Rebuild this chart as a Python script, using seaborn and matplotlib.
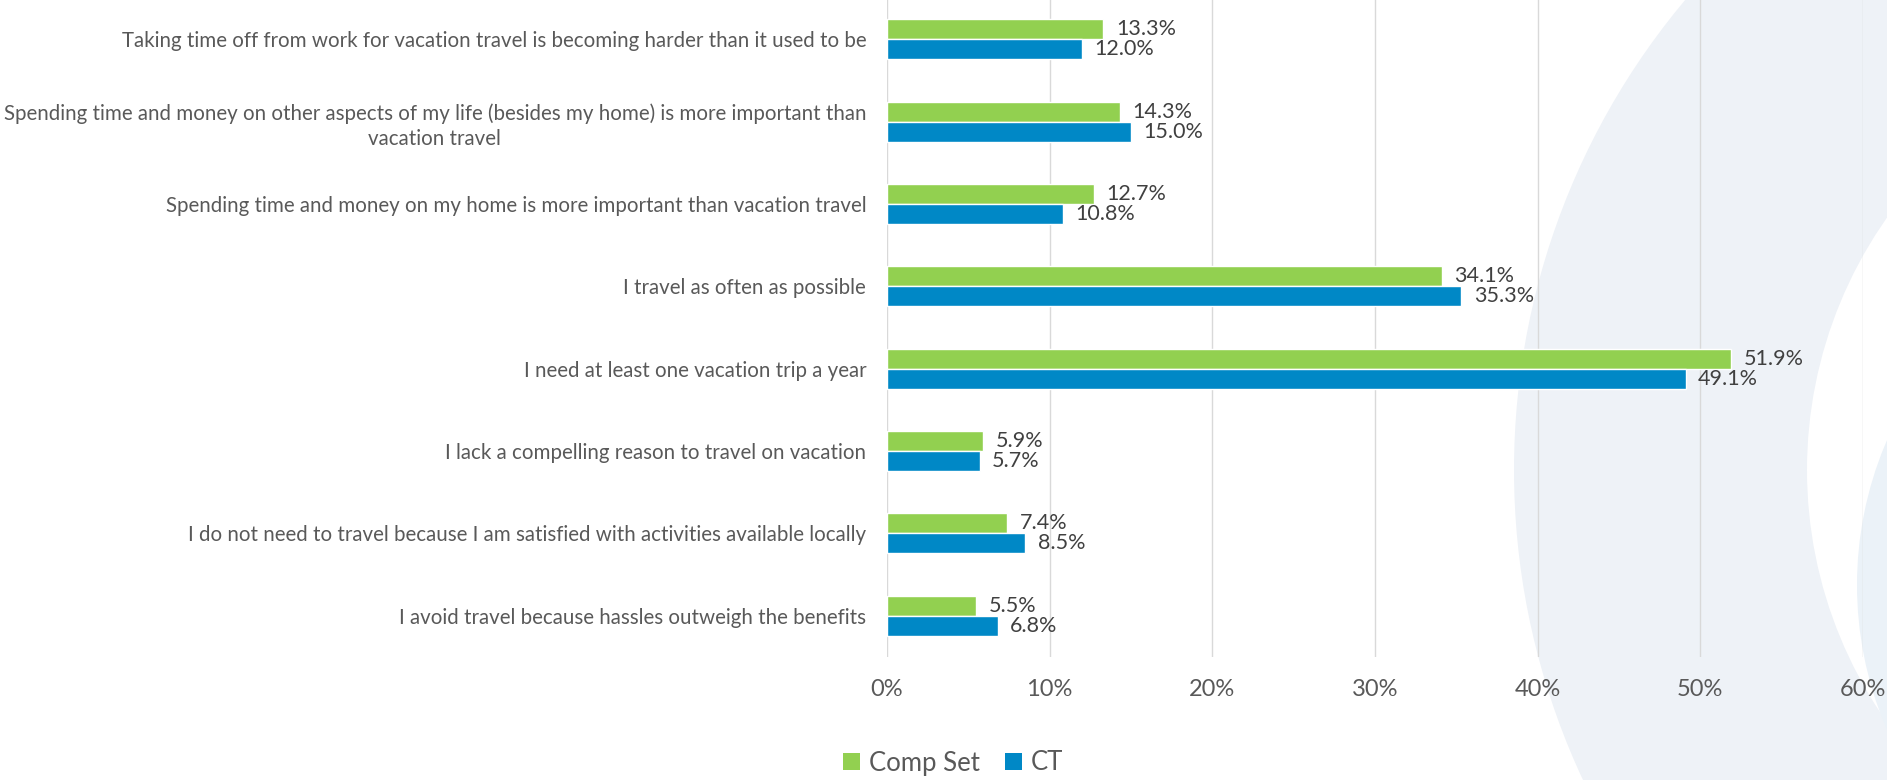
import matplotlib
matplotlib.use("Agg")
import matplotlib.pyplot as plt
from matplotlib.patches import Circle
from matplotlib.transforms import IdentityTransform
import pandas as pd
import seaborn as sns

# Survey statements (top to bottom) and share of respondents agreeing
statements = [
    "Taking time off from work for vacation travel is becoming harder than it used to be",
    "Spending time and money on other aspects of my life (besides my home) is more important than\nvacation travel",
    "Spending time and money on my home is more important than vacation travel",
    "I travel as often as possible",
    "I need at least one vacation trip a year",
    "I lack a compelling reason to travel on vacation",
    "I do not need to travel because I am satisfied with activities available locally",
    "I avoid travel because hassles outweigh the benefits",
]
comp_set = [13.3, 14.3, 12.7, 34.1, 51.9, 5.9, 7.4, 5.5]
ct = [12.0, 15.0, 10.8, 35.3, 49.1, 5.7, 8.5, 6.8]
series_names = ["Comp Set", "CT"]
x_ticks = [0, 10, 20, 30, 40, 50, 60]
x_tick_labels = ["0%", "10%", "20%", "30%", "40%", "50%", "60%"]

colors = {"Comp Set": "#92D050", "CT": "#0088C6"}

df = pd.DataFrame({
    "statement": statements * 2,
    "share": comp_set + ct,
    "group": [series_names[0]] * len(statements) + [series_names[1]] * len(statements),
})

sns.set_style("white")
plt.rcParams["font.family"] = ["Lato", "DejaVu Sans"]

W, H, DPI = 1887, 780, 100
fig = plt.figure(figsize=(W / DPI, H / DPI), dpi=DPI)
fig.patch.set_facecolor("white")

# decorative rings in the lower right corner (pixel coordinates)
ident = IdentityTransform()
fig.add_artist(Circle((2245, H - 470), 731, transform=ident, facecolor="#EEF2F7",
                      edgecolor="none", zorder=-10))
fig.add_artist(Circle((2245, H - 470), 438, transform=ident, facecolor="white",
                      edgecolor="none", zorder=-9))
fig.add_artist(Circle((2222, H - 585), 365, transform=ident, facecolor="#EBF2F8",
                      edgecolor="none", zorder=-8))

ax = fig.add_axes([887 / W, 1 - 656.7 / H, (1863 - 887) / W, 658.4 / H])
ax.set_facecolor("none")

sns.barplot(
    data=df, x="share", y="statement", hue="group",
    order=statements, hue_order=series_names, palette=colors,
    orient="h", width=0.487, gap=0, dodge=True, saturation=1,
    legend=False, ax=ax, zorder=3,
)

for container in ax.containers:
    ax.bar_label(container, fmt="%.1f%%", padding=9, fontsize=15.5, color="#404040")

ax.set_xlim(0, 60)
ax.set_ylim(7.5, -0.5)
ax.set_xticks(x_ticks)
ax.set_xticklabels(x_tick_labels, fontsize=17, color="#595959")
ax.tick_params(axis="x", length=0, pad=16)
ax.tick_params(axis="y", length=0, pad=15, labelsize=14.8, labelcolor="#595959")
for t in ax.get_yticklabels():
    t.set_multialignment("center")
    t.set_linespacing(1.3)

ax.xaxis.grid(True, color="#D9D9D9", linewidth=1.0, zorder=0)
ax.yaxis.grid(False)
ax.set_axisbelow(True)
for s in ax.spines.values():
    s.set_visible(False)
ax.set_xlabel("")
ax.set_ylabel("")

handles = [plt.Rectangle((0, 0), 1, 1, facecolor=colors[n], edgecolor="none") for n in series_names]
fig.legend(handles, series_names, loc="center", bbox_to_anchor=(953 / W, 1 - 763 / H),
           ncol=2, frameon=False, fontsize=18.5, labelcolor="#595959",
           handlelength=0.66, handleheight=0.66, handletextpad=0.35, columnspacing=1.0)

fig.savefig("out.png", dpi=DPI, facecolor="white")
